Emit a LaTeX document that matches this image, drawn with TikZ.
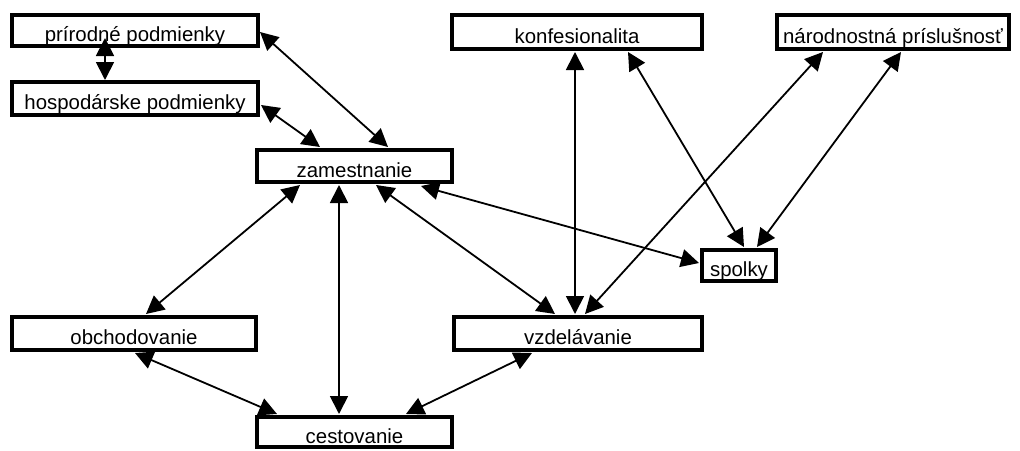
\documentclass[tikz,border=0pt]{standalone}
\usepackage{fontspec}
\setmainfont{Liberation Sans}
\usetikzlibrary{arrows.meta,calc}
\begin{document}
\begin{tikzpicture}[x=1pt,y=-1pt,
  box/.style={draw,line width=4.5pt,inner sep=0pt,outer sep=0pt,text height=22pt,text depth=0pt,
    font=\fontsize{20.4}{24}\selectfont},
  link/.style={line width=1.8pt,{Triangle[length=18pt,width=18pt]}-{Triangle[length=18pt,width=18pt]}}]
\useasboundingbox (0,0) rectangle (1020,450);
\node[box,minimum width=246pt,minimum height=31pt] (pri) at (135,30.5) {prírodné podmienky};
\node[box,minimum width=246pt,minimum height=33pt] (hos) at (135,98.5) {hospodárske podmienky};
\node[box,minimum width=195pt,minimum height=32pt] (zam) at (354.5,166) {zamestnanie};
\node[box,minimum width=250pt,minimum height=34pt] (konf) at (577,32) {konfesionalita};
\node[box,minimum width=232pt,minimum height=34pt] (nar) at (893,32) {národnostná príslušnosť};
\node[box,minimum width=74pt,minimum height=31pt] (spo) at (739,265.5) {spolky};
\node[box,minimum width=244pt,minimum height=33pt] (obch) at (134,333.5) {obchodovanie};
\node[box,minimum width=248pt,minimum height=33pt] (vzd) at (578,333.5) {vzdelávanie};
\node[box,minimum width=195pt,minimum height=30pt] (cest) at (354.5,432) {cestovanie};

\draw[link] ($(pri.south west)+(93,-8)$) -- ($(hos.north west)+(93,-2)$);
\draw[link] ($(pri.north east)+(2,17)$) -- ($(zam.north west)+(131,-3)$);
\draw[link] ($(hos.north east)+(3,23)$) -- ($(zam.north west)+(63,-3)$);
\draw[link] ($(zam.south west)+(43,3)$) -- ($(obch.north west)+(134,-3)$);
\draw[link] ($(zam.south west)+(82,3)$) -- ($(cest.north west)+(82,-3)$);
\draw[link] ($(zam.south west)+(119,3)$) -- ($(vzd.north west)+(101,-3)$);
\draw[link] ($(zam.south west)+(164,4)$) -- ($(spo.north west)+(-3,13)$);
\draw[link] ($(konf.south west)+(123,3)$) -- ($(vzd.north west)+(121,-3)$);
\draw[link] ($(konf.south west)+(176,3)$) -- ($(spo.north west)+(42,-3)$);
\draw[link] ($(nar.south west)+(46,3)$) -- ($(vzd.north west)+(131,-3)$);
\draw[link] ($(nar.south west)+(124,3)$) -- ($(spo.north west)+(55,-3)$);
\draw[link] ($(obch.south west)+(123,3)$) -- ($(cest.north west)+(20,-3)$);
\draw[link] ($(vzd.south west)+(78,3)$) -- ($(cest.north west)+(149,-3)$);
\end{tikzpicture}
\end{document}
